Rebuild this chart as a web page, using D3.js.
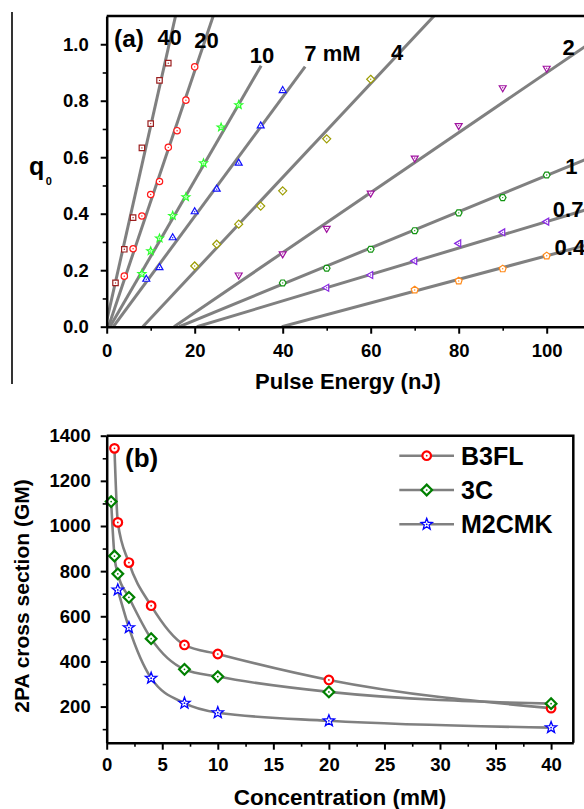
<!DOCTYPE html>
<html>
<head>
<meta charset="utf-8">
<script src="https://cdn.jsdelivr.net/npm/d3@7"></script>
<style>
  html, body { margin: 0; padding: 0; background: #fff; }
  svg { display: block; font-family: "Liberation Sans", Arial, Helvetica, sans-serif; font-weight: bold; }
</style>
</head>
<body>
<svg id="fig" width="584" height="809"></svg>
<script>
// ---------- Panel (a): q0 versus pulse energy, one series per concentration (mM) ----------
const concLabels = ["40", "20", "10", "7 mM", "4", "2", "1", "0.7", "0.4"];

const energy40 = [2, 4, 6, 8, 10, 12, 14];
const q40      = [0.155, 0.274, 0.386, 0.633, 0.719, 0.872, 0.933];
const energy20 = [4, 6, 8, 10, 12, 14, 16, 18, 20];
const q20      = [0.179, 0.276, 0.392, 0.468, 0.514, 0.635, 0.694, 0.802, 0.920];
const energy10 = [8, 10, 12, 15, 18, 22, 26, 30];
const q10      = [0.187, 0.268, 0.313, 0.393, 0.459, 0.579, 0.706, 0.785];
const energy7  = [9, 12, 15, 20, 25, 30, 35, 40];
const q7       = [0.168, 0.209, 0.315, 0.407, 0.487, 0.579, 0.711, 0.836];
const energy4  = [20, 25, 30, 35, 40, 50, 60];
const q4       = [0.215, 0.292, 0.363, 0.427, 0.481, 0.665, 0.876];
const energy2  = [30, 40, 50, 60, 70, 80, 90, 100];
const q2       = [0.183, 0.258, 0.348, 0.473, 0.597, 0.712, 0.846, 0.915];
const energy1  = [40, 50, 60, 70, 80, 90, 100];
const q1       = [0.155, 0.207, 0.274, 0.340, 0.403, 0.457, 0.537];
const energy07 = [50, 60, 70, 80, 90, 100];
const q07      = [0.138, 0.183, 0.233, 0.295, 0.334, 0.372];
const energy04 = [70, 80, 90, 100];
const q04      = [0.130, 0.162, 0.205, 0.251];

// linear fits: q0 = slope * (E - onset), drawn from the onset up to fitEnd (nJ)
const fitOnset = [-0.3, 0.4, 0.75, 1.5, 8.2, 15.3, 16.5, 20.5, 39.8];
const fitSlope = [0.069, 0.0462, 0.0269, 0.02112, 0.01662, 0.01062, 0.00641, 0.00468, 0.00417];
const fitEnd   = [16, 25, 35.1, 45.1, 75, 112, 112, 112, 112];

const energyTicks = [0, 20, 40, 60, 80, 100];
const energyMinor = [10, 30, 50, 70, 90];
const qTicks = [0, 0.2, 0.4, 0.6, 0.8, 1.0];
const qMinor = [0.1, 0.3, 0.5, 0.7, 0.9];

// ---------- Panel (b): 2PA cross section versus concentration ----------
const compounds = ["B3FL", "3C", "M2CMK"];
const concB3FL  = [0.7, 1, 2, 4, 7, 10, 20, 40];
const gmB3FL    = [1344, 1016, 838, 647, 473, 433, 318, 193];
const conc3C    = [0.4, 0.7, 1, 2, 4, 7, 10, 20, 40];
const gm3C      = [1108, 867, 788, 684, 501, 365, 333, 265, 213];
const concM2CMK = [1, 2, 4, 7, 10, 20, 40];
const gmM2CMK   = [717, 550, 326, 215, 173, 137, 107];

const concTicks = [0, 5, 10, 15, 20, 25, 30, 35, 40];
const concMinor = [2.5, 7.5, 12.5, 17.5, 22.5, 27.5, 32.5, 37.5];
const gmTicks = [200, 400, 600, 800, 1000, 1200, 1400];
const gmMinor = [100, 300, 500, 700, 900, 1100, 1300];

// ---------- drawing ----------
const svg = d3.select("#fig");
const GRAY = "#808080";

// marker outlines
const polyPath = (n, r, rot) => {
  const pts = d3.range(n).map(i => {
    const a = -Math.PI / 2 + rot + i * 2 * Math.PI / n;
    return [r * Math.cos(a), r * Math.sin(a)];
  });
  return d3.line()(pts) + "Z";
};
const starPath = (r) => {
  const pts = d3.range(10).map(i => {
    const a = -Math.PI / 2 + i * Math.PI / 5;
    const rr = i % 2 === 0 ? r : r * 0.42;
    return [rr * Math.cos(a), rr * Math.sin(a)];
  });
  return d3.line()(pts) + "Z";
};
const circlePath = (r) => { const p = d3.path(); p.arc(0, 0, r, 0, 2 * Math.PI); p.closePath(); return p.toString(); };
const shapes = {
  square:   r => polyPath(4, r * 1.2, Math.PI / 4),
  circle:   r => circlePath(r),
  star:     r => starPath(r * 1.3),
  triUp:    r => polyPath(3, r * 1.25, 0),
  triDown:  r => polyPath(3, r * 1.25, Math.PI),
  triLeft:  r => polyPath(3, r * 1.25, -Math.PI / 2),
  diamond:  r => polyPath(4, r * 1.25, 0),
  hexagon:  r => polyPath(6, r * 1.05, Math.PI / 6),
  pentagon: r => polyPath(5, r * 1.15, 0)
};
function drawMarker(g, cx, cy, shape, r, color, sw) {
  g.append("path").attr("transform", `translate(${cx},${cy})`)
    .attr("d", shapes[shape](r)).attr("fill", "#fff")
    .attr("stroke", color).attr("stroke-width", sw).attr("stroke-linejoin", "miter");
  g.append("circle").attr("cx", cx).attr("cy", cy).attr("r", Math.max(0.7, r * 0.2)).attr("fill", color);
}

function styleAxis(g, sw) {
  g.select(".domain").attr("stroke", "#000").attr("stroke-width", sw);
  g.selectAll(".tick line").attr("stroke", "#000").attr("stroke-width", 2);
  g.selectAll(".tick text").attr("fill", "#000")
    .attr("font-family", '"Liberation Sans", Arial, sans-serif').attr("font-weight", "bold");
}
function minorAxis(g, sw) {
  g.select(".domain").remove();
  g.selectAll(".tick line").attr("stroke", "#000").attr("stroke-width", 1.6);
  g.selectAll(".tick text").remove();
}

// separator rule at the far left of panel (a)
svg.append("line").attr("x1", 12).attr("x2", 12).attr("y1", 12).attr("y2", 384)
  .attr("stroke", "#000").attr("stroke-width", 1.6);

// ----- panel (a) -----
const xA = d3.scaleLinear().domain([0, 110]).range([106.7, 590.7]);
const yA = d3.scaleLinear().domain([0, 1.1]).range([326.7, 16]);

svg.append("clipPath").attr("id", "clipA").append("rect")
  .attr("x", xA(0)).attr("y", yA(1.1)).attr("width", 600).attr("height", yA(0) - yA(1.1));

const seriesA = [
  { e: energy40, q: q40, color: "#9b1f1f", shape: "square" },
  { e: energy20, q: q20, color: "#ff1a1a", shape: "circle" },
  { e: energy10, q: q10, color: "#2cff2c", shape: "star" },
  { e: energy7,  q: q7,  color: "#1010ff", shape: "triUp" },
  { e: energy4,  q: q4,  color: "#9c9c00", shape: "diamond" },
  { e: energy2,  q: q2,  color: "#a010a0", shape: "triDown" },
  { e: energy1,  q: q1,  color: "#129412", shape: "hexagon" },
  { e: energy07, q: q07, color: "#8a2be2", shape: "triLeft" },
  { e: energy04, q: q04, color: "#ff8a1a", shape: "pentagon" }
];

const gA = svg.append("g");
const fitLine = d3.line().x(d => xA(d[0])).y(d => yA(d[1]));
const gLines = gA.append("g").attr("clip-path", "url(#clipA)");
seriesA.forEach((s, i) => {
  const e0 = fitOnset[i], e1 = fitEnd[i];
  gLines.append("path")
    .attr("d", fitLine([[e0, 0], [e1, fitSlope[i] * (e1 - e0)]]))
    .attr("stroke", GRAY).attr("stroke-width", 3).attr("fill", "none");
});
seriesA.forEach(s => {
  s.e.forEach((e, j) => drawMarker(gA, xA(e), yA(s.q[j]), s.shape, 3.2, s.color, 1.2));
});

// frame of panel (a): left, bottom and top edges
gA.append("line").attr("x1", xA(0)).attr("x2", xA(110)).attr("y1", yA(1.1)).attr("y2", yA(1.1))
  .attr("stroke", "#000").attr("stroke-width", 2.5);
const axA_x = gA.append("g").attr("transform", `translate(0,${yA(0)})`)
  .call(d3.axisBottom(xA).tickValues(energyTicks).tickFormat(d3.format("d"))
    .tickSizeInner(7).tickSizeOuter(0).tickPadding(10));
styleAxis(axA_x, 2.5);
axA_x.selectAll(".tick text").attr("font-size", 18.5);
const axA_xm = gA.append("g").attr("transform", `translate(0,${yA(0)})`)
  .call(d3.axisBottom(xA).tickValues(energyMinor).tickSize(4));
minorAxis(axA_xm);
const axA_y = gA.append("g").attr("transform", `translate(${xA(0)},0)`)
  .call(d3.axisLeft(yA).tickValues(qTicks).tickFormat(d3.format(".1f"))
    .tickSizeInner(6).tickSizeOuter(0).tickPadding(12));
styleAxis(axA_y, 2.5);
axA_y.selectAll(".tick text").attr("font-size", 18.5);
const axA_ym = gA.append("g").attr("transform", `translate(${xA(0)},0)`)
  .call(d3.axisLeft(yA).tickValues(qMinor).tickSize(4));
minorAxis(axA_ym);

// concentration tags next to the fits
const tagPos = [
  [14.3, 0.997, "middle"], [22.7, 0.987, "middle"], [35.3, 0.934, "middle"],
  [51.3, 0.939, "middle"], [66.0, 0.944, "middle"], [103.6, 0.962, "start"],
  [104.2, 0.541, "start"], [101.4, 0.388, "start"], [101.8, 0.254, "start"]
];
concLabels.forEach((t, i) => {
  gA.append("text").attr("x", xA(tagPos[i][0])).attr("y", yA(tagPos[i][1]))
    .attr("text-anchor", tagPos[i][2]).attr("font-size", 22).text(t);
});
gA.append("text").attr("x", 114).attr("y", 46.5).attr("font-size", 24.5).text("(a)");

// axis titles of panel (a)
const qTitle = gA.append("text").attr("x", 29).attr("y", 175).attr("font-size", 25).text("q");
qTitle.append("tspan").attr("dx", 1.5).attr("dy", 10).attr("font-size", 11).text("0");
gA.append("text").attr("x", 348).attr("y", 389).attr("text-anchor", "middle")
  .attr("font-size", 22).text("Pulse Energy (nJ)");

// ----- panel (b) -----
const xB = d3.scaleLinear().domain([0, 42]).range([106.7, 573.3]);
const yB = d3.scaleLinear().domain([40, 1400]).range([742.7, 435.7]);
const gB = svg.append("g");

const seriesB = [
  { c: concB3FL,  v: gmB3FL,  color: "#ff0000", shape: "circle",  r: 4.3, sw: 2.2 },
  { c: conc3C,    v: gm3C,    color: "#008000", shape: "diamond", r: 4.3, sw: 2.2 },
  { c: concM2CMK, v: gmM2CMK, color: "#0000ff", shape: "star",    r: 4.6, sw: 1.3 }
];
const curveB = d3.line().x(d => xB(d[0])).y(d => yB(d[1])).curve(d3.curveMonotoneX);
seriesB.forEach(s => {
  gB.append("path").attr("d", curveB(s.c.map((c, j) => [c, s.v[j]])))
    .attr("fill", "none").attr("stroke", GRAY).attr("stroke-width", 2.6);
});
seriesB.forEach(s => {
  s.c.forEach((c, j) => drawMarker(gB, xB(c), yB(s.v[j]), s.shape, s.r, s.color, s.sw));
});

const axB_x = gB.append("g").attr("transform", `translate(0,${yB(40)})`)
  .call(d3.axisBottom(xB).tickValues(concTicks).tickFormat(d3.format("d"))
    .tickSizeInner(7).tickSizeOuter(0).tickPadding(8));
styleAxis(axB_x, 2.5);
axB_x.selectAll(".tick text").attr("font-size", 18.5);
const axB_xm = gB.append("g").attr("transform", `translate(0,${yB(40)})`)
  .call(d3.axisBottom(xB).tickValues(concMinor).tickSize(4));
minorAxis(axB_xm);
const axB_y = gB.append("g").attr("transform", `translate(${xB(0)},0)`)
  .call(d3.axisLeft(yB).tickValues(gmTicks).tickFormat(d3.format("d"))
    .tickSizeInner(6).tickSizeOuter(0).tickPadding(10));
styleAxis(axB_y, 2.5);
axB_y.selectAll(".tick text").attr("font-size", 18.5);
const axB_ym = gB.append("g").attr("transform", `translate(${xB(0)},0)`)
  .call(d3.axisLeft(yB).tickValues(gmMinor).tickSize(4));
minorAxis(axB_ym);
// top and right edges of the frame
gB.append("path")
  .attr("d", d3.line()([[xB(0), yB(1400)], [xB(42), yB(1400)], [xB(42), yB(40)]]))
  .attr("fill", "none").attr("stroke", "#000").attr("stroke-width", 2.5);

gB.append("text").attr("x", 125).attr("y", 467).attr("font-size", 26).text("(b)");

// legend
const legY = [455.7, 490, 524.3];
seriesB.forEach((s, i) => {
  gB.append("line").attr("x1", 399.3).attr("x2", 454).attr("y1", legY[i]).attr("y2", legY[i])
    .attr("stroke", GRAY).attr("stroke-width", 2.6);
  drawMarker(gB, 426.7, legY[i], s.shape, s.r, s.color, s.sw);
  gB.append("text").attr("x", 461).attr("y", legY[i]).attr("dy", "0.36em")
    .attr("font-size", 25).text(compounds[i]);
});

// axis titles of panel (b)
gB.append("text").attr("transform", `translate(28.5,596) rotate(-90)`)
  .attr("text-anchor", "middle").attr("font-size", 21).text("2PA cross section (GM)");
gB.append("text").attr("x", 340).attr("y", 805).attr("text-anchor", "middle")
  .attr("font-size", 22.5).text("Concentration (mM)");
</script>
</body>
</html>
